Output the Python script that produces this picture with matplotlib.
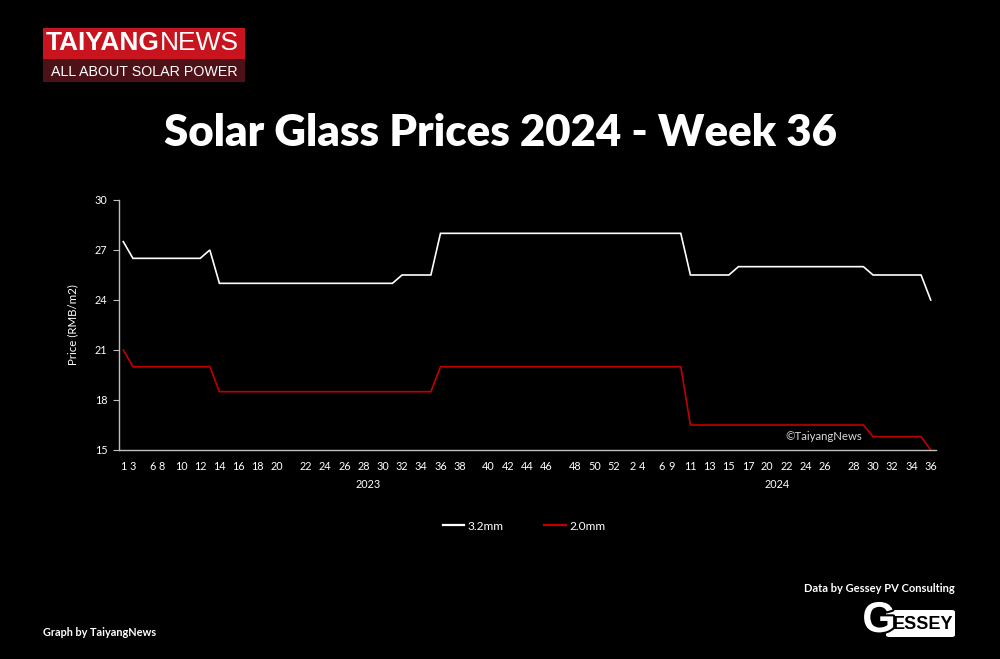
import matplotlib
matplotlib.use("Agg")
import matplotlib.pyplot as plt
from matplotlib.patches import Rectangle, FancyBboxPatch
from matplotlib.lines import Line2D
import matplotlib.patheffects as pe
import numpy as np

# ---------------- data ----------------
years = ["2023", "2024"]

# x-axis week labels (blank = point without a shown label)
x_labels_2023 = ["1", "3", "", "6", "8", "", "10", "", "12", "", "14", "", "16", "", "18", "",
                 "20", "", "", "22", "", "24", "", "26", "", "28", "", "30", "", "32", "", "34",
                 "", "36", "", "38", "", "", "40", "", "42", "", "44", "", "46", "", "", "48",
                 "", "50", "", "52"]
x_labels_2024 = ["", "2", "4", "", "6", "9", "", "11", "", "13", "", "15", "", "17", "", "20",
                 "", "22", "", "24", "", "26", "", "", "28", "", "30", "", "32", "", "34", "", "36"]

# 3.2mm glass price (RMB/m2)
price_32_2023 = [27.5, 26.5, 26.5, 26.5, 26.5, 26.5, 26.5, 26.5, 26.5, 27.0,
                 25.0, 25.0, 25.0, 25.0, 25.0, 25.0, 25.0, 25.0, 25.0, 25.0,
                 25.0, 25.0, 25.0, 25.0, 25.0, 25.0, 25.0, 25.0, 25.0, 25.5,
                 25.5, 25.5, 25.5, 28.0, 28.0, 28.0, 28.0, 28.0, 28.0, 28.0,
                 28.0, 28.0, 28.0, 28.0, 28.0, 28.0, 28.0, 28.0, 28.0, 28.0,
                 28.0, 28.0]
price_32_2024 = [28.0, 28.0, 28.0, 28.0, 28.0, 28.0, 28.0, 25.5, 25.5, 25.5,
                 25.5, 25.5, 26.0, 26.0, 26.0, 26.0, 26.0, 26.0, 26.0, 26.0,
                 26.0, 26.0, 26.0, 26.0, 26.0, 26.0, 25.5, 25.5, 25.5, 25.5,
                 25.5, 25.5, 24.0]

# 2.0mm glass price (RMB/m2)
price_20_2023 = [21.0, 20.0, 20.0, 20.0, 20.0, 20.0, 20.0, 20.0, 20.0, 20.0,
                 18.5, 18.5, 18.5, 18.5, 18.5, 18.5, 18.5, 18.5, 18.5, 18.5,
                 18.5, 18.5, 18.5, 18.5, 18.5, 18.5, 18.5, 18.5, 18.5, 18.5,
                 18.5, 18.5, 18.5, 20.0, 20.0, 20.0, 20.0, 20.0, 20.0, 20.0,
                 20.0, 20.0, 20.0, 20.0, 20.0, 20.0, 20.0, 20.0, 20.0, 20.0,
                 20.0, 20.0]
price_20_2024 = [20.0, 20.0, 20.0, 20.0, 20.0, 20.0, 20.0, 16.5, 16.5, 16.5,
                 16.5, 16.5, 16.5, 16.5, 16.5, 16.5, 16.5, 16.5, 16.5, 16.5,
                 16.5, 16.5, 16.5, 16.5, 16.5, 16.5, 15.8, 15.8, 15.8, 15.8,
                 15.8, 15.8, 15.0]

y_ticks = [15, 18, 21, 24, 27, 30]
series_names = ["3.2mm", "2.0mm"]

# ---------------- drawing ----------------
BG = "black"
WHITE = "#ffffff"
RED = "#c00000"
AXIS = "#bfbfbf"
FONT = ["Lato", "DejaVu Sans"]
ARIAL = ["Liberation Sans", "DejaVu Sans"]

plt.rcParams["font.family"] = FONT

W, H = 1000, 659
fig = plt.figure(figsize=(W / 100, H / 100), dpi=100, facecolor=BG)

def fx(px):
    return px / W

def fy(py):
    return 1 - py / H

ax = fig.add_axes([fx(118.5), fy(450), fx(935.5) - fx(118.5), fy(200) - fy(450)])
ax.set_facecolor(BG)

labels = x_labels_2023 + x_labels_2024
p32 = price_32_2023 + price_32_2024
p20 = price_20_2023 + price_20_2024
x = np.arange(len(labels))

ax.plot(x, p32, color=WHITE, lw=1.2, solid_joinstyle="miter")
ax.plot(x, p20, color=RED, lw=1.2, solid_joinstyle="miter")

ax.set_xlim(-0.5, len(labels) - 0.5)
ax.set_ylim(15, 30)
ax.set_yticks(y_ticks)
ax.set_xticks(x)
ax.set_xticklabels(labels)

for s in ["top", "right"]:
    ax.spines[s].set_visible(False)
for s in ["left", "bottom"]:
    ax.spines[s].set_color(AXIS)
    ax.spines[s].set_linewidth(1.0)

ax.tick_params(axis="x", length=0, pad=8, labelsize=7.8, colors=WHITE)
ax.tick_params(axis="y", length=4, width=0.8, color=AXIS, pad=4, labelsize=7.8, labelcolor=WHITE)

# year group labels
n23 = len(x_labels_2023)
n24 = len(x_labels_2024)
centers = [(n23 - 1) / 2, n23 + (n24 - 1) / 2]
for yr, c in zip(years, centers):
    ax.text(c, -0.14, yr, transform=ax.get_xaxis_transform(), ha="center", va="center",
            color=WHITE, fontsize=7.8)

ax.set_ylabel("Price (RMB/m2)", color=WHITE, fontsize=8.3, labelpad=12)

# watermark
ax.text(fx(862), fy(437), "©TaiyangNews", transform=fig.transFigure, ha="right", va="center",
        color="#d9d9d9", fontsize=8.2)

# legend
handles = [Line2D([0], [0], color=WHITE, lw=1.6), Line2D([0], [0], color=RED, lw=1.6)]
leg = fig.legend(handles, series_names, loc="center", bbox_to_anchor=(fx(524), fy(526)),
                 ncol=2, frameon=False, fontsize=8.6, handlelength=1.8, columnspacing=3.4,
                 handletextpad=0.3)
for t in leg.get_texts():
    t.set_color(WHITE)

# title
fig.text(0.5, fy(133), "Solar Glass Prices 2024 - Week 36", ha="center", va="center",
         color=WHITE, fontsize=31.5, fontweight="heavy")

# TaiyangNews logo
fig.patches.append(Rectangle((fx(43), fy(59)), fx(245) - fx(43), fy(28) - fy(59),
                             transform=fig.transFigure, facecolor="#c8141e", edgecolor="none"))
fig.patches.append(Rectangle((fx(43), fy(82)), fx(245) - fx(43), fy(59) - fy(82),
                             transform=fig.transFigure, facecolor="#4d1218", edgecolor="none"))
t1 = fig.text(fx(46), fy(43.5), "TAIYANG", ha="left", va="center", color=WHITE,
              fontsize=19, fontweight="bold", family=ARIAL)
fig.canvas.draw()
bb = t1.get_window_extent()
fig.text(bb.x1 / W, fy(43.5), "NEWS", ha="left", va="center", color=WHITE,
         fontsize=19, fontweight="normal", family=ARIAL)
fig.text(fx(144.5), fy(72), "ALL ABOUT SOLAR POWER", ha="center", va="center", color=WHITE,
         fontsize=10.3, family=ARIAL)

# footer
fig.text(fx(955), fy(589), "Data by Gessey PV Consulting", ha="right", va="center",
         color=WHITE, fontsize=8, fontweight="bold")
fig.text(fx(43), fy(633), "Graph by TaiyangNews", ha="left", va="center",
         color=WHITE, fontsize=7.9, fontweight="bold")

# Gessey logo
fig.patches.append(FancyBboxPatch((fx(886), fy(637)), fx(955) - fx(886), fy(610) - fy(637),
                                  boxstyle="round,pad=0,rounding_size=0.003",
                                  transform=fig.transFigure, facecolor=WHITE, edgecolor="none"))
fig.text(fx(923.5), fy(624.5), "ESSEY", ha="center", va="center", color="black",
         fontsize=13, fontweight="bold", family=ARIAL)
g = fig.text(fx(879), fy(621), "G", ha="center", va="center", color=WHITE,
             fontsize=31, fontweight="bold", family=ARIAL)
g.set_path_effects([pe.withStroke(linewidth=3, foreground="black")])

fig.savefig("out.png", dpi=100, facecolor=BG)
